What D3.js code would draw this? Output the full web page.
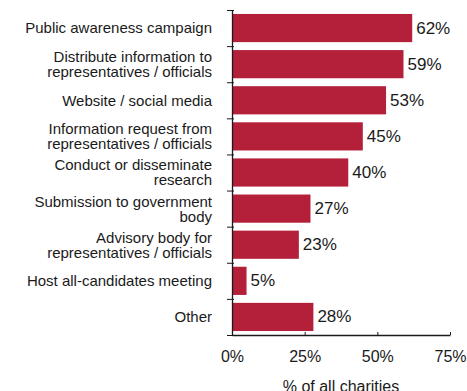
<!DOCTYPE html>
<html>
<head>
<meta charset="utf-8">
<script src="https://cdn.jsdelivr.net/npm/d3@7/dist/d3.min.js"></script>
<style>
  html, body { margin: 0; padding: 0; background: #fff; }
  svg { display: block; font-family: "Liberation Sans", Arial, Helvetica, sans-serif; }
</style>
</head>
<body>
<svg id="chart" width="467" height="391"></svg>
<script>
// Advocacy activities reported by charities (share of all charities)
const categories = [
  ["Public awareness campaign"],
  ["Distribute information to", "representatives / officials"],
  ["Website / social media"],
  ["Information request from", "representatives / officials"],
  ["Conduct or disseminate", "research"],
  ["Submission to government", "body"],
  ["Advisory body for", "representatives / officials"],
  ["Host all-candidates meeting"],
  ["Other"]
];
const values = [0.62, 0.59, 0.53, 0.45, 0.40, 0.27, 0.23, 0.05, 0.28];
const xTicks = [0, 0.25, 0.5, 0.75];
const xTitle = "% of all charities";

const svg = d3.select("#chart");
const plotLeft = 232, plotRight = 450, plotTop = 10, plotBottom = 335;
const barColor = "#b41f3a";
const ink = "#1a1a1a";

const keys = categories.map((c, i) => i);

const x = d3.scaleLinear().domain([0, 0.75]).range([plotLeft, plotRight]);
const y = d3.scaleBand().domain(keys).range([plotTop, plotBottom])
  .paddingInner(0.22).paddingOuter(0.11);

// bars
svg.append("g").selectAll("rect").data(keys).join("rect")
  .attr("x", x(0) + 1)
  .attr("y", i => y(i))
  .attr("width", i => x(values[i]) - x(0) - 1)
  .attr("height", y.bandwidth())
  .attr("fill", barColor);

// value labels
svg.append("g").selectAll("text").data(keys).join("text")
  .attr("x", i => x(values[i]) + 4)
  .attr("y", i => y(i) + y.bandwidth() / 2 + 1)
  .attr("dominant-baseline", "middle")
  .attr("font-size", 17)
  .attr("fill", ink)
  .text(i => Math.round(values[i] * 100) + "%");

// category labels (one or two lines)
const lineH = 15;
const labels = svg.append("g").selectAll("text").data(keys).join("text")
  .attr("text-anchor", "end")
  .attr("font-size", 15)
  .attr("fill", ink)
  .attr("transform", i => `translate(212,${y(i) + y.bandwidth() / 2})`);
labels.each(function (i) {
  const lines = categories[i];
  const t = d3.select(this);
  lines.forEach((ln, k) => {
    t.append("tspan")
      .attr("x", 0)
      .attr("y", (k - (lines.length - 1) / 2) * lineH)
      .attr("dy", "0.36em")
      .text(ln);
  });
});

// y axis: boundaries between categories, ticks crossing the axis line
const yb = d3.scaleLinear().domain([0, keys.length]).range([plotTop, plotBottom]);
const yAxis = svg.append("g")
  .attr("transform", `translate(${plotLeft},0)`)
  .call(d3.axisLeft(yb).ticks(keys.length).tickSize(5).tickSizeOuter(0).tickFormat(""));
yAxis.selectAll(".tick line").attr("x1", 2).attr("stroke", ink);
yAxis.select(".domain").attr("stroke", ink).attr("stroke-width", 1.3);

// x axis
const xAxis = svg.append("g")
  .attr("transform", `translate(0,${plotBottom})`)
  .call(d3.axisBottom(x).tickValues(xTicks).tickSize(-3).tickSizeOuter(0)
    .tickPadding(16).tickFormat(d3.format(".0%")));
xAxis.select(".domain").attr("stroke", ink).attr("stroke-width", 1.3);
xAxis.selectAll(".tick line").attr("stroke", ink);
xAxis.selectAll(".tick text")
  .attr("font-size", 16)
  .attr("font-family", "Liberation Sans, Arial, sans-serif")
  .attr("fill", ink);

// x axis title
svg.append("text")
  .attr("x", (plotLeft + plotRight) / 2)
  .attr("y", 392)
  .attr("text-anchor", "middle")
  .attr("font-size", 16)
  .attr("fill", ink)
  .text(xTitle);
</script>
</body>
</html>
